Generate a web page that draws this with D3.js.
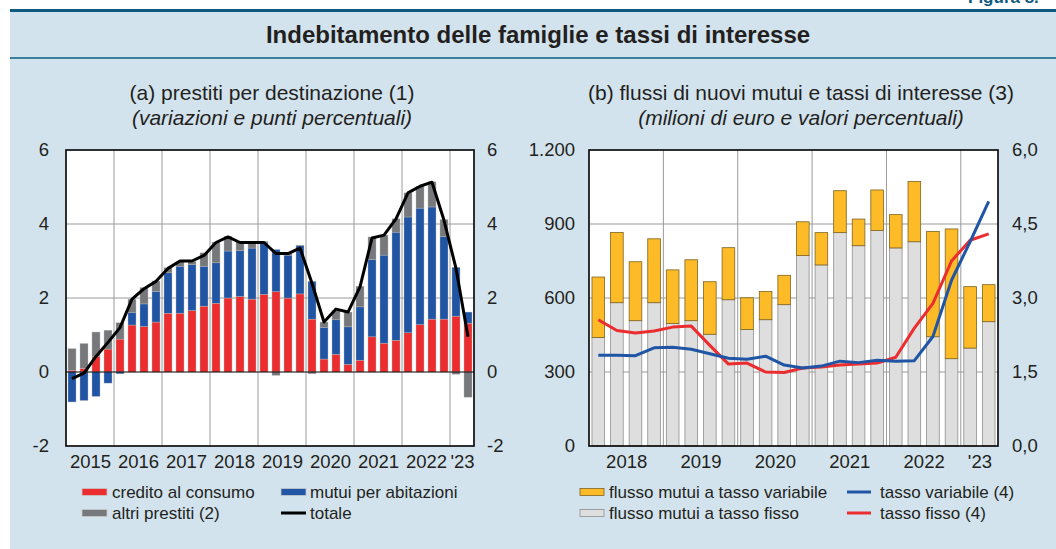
<!DOCTYPE html>
<html>
<head>
<meta charset="utf-8">
<script src="https://cdn.jsdelivr.net/npm/d3@7"></script>
<style>
  html, body { margin: 0; padding: 0; background: #fff; }
  svg { display: block; font-family: "Liberation Sans", Arial, Helvetica, sans-serif; }
  .tick text { fill: #231f20; font-size: 18.5px; }
  .legend text { fill: #231f20; font-size: 17px; }
</style>
</head>
<body>
<svg id="chart" width="1056" height="549"></svg>
<script>
// (a) prestiti per destinazione: quarterly, 2015 Q1 - 2023 Q2
const yearsA = [2015, 2016, 2017, 2018, 2019, 2020, 2021, 2022, 2023];
const yearLabelsA = ['2015', '2016', '2017', '2018', '2019', '2020', '2021', '2022', "'23"];
const creditoConsumo = [0.05, 0.10, 0.42, 0.62, 0.89, 1.27, 1.23, 1.35, 1.59, 1.59, 1.66, 1.78, 1.86, 2.00, 2.04, 1.97,
  2.10, 2.17, 2.00, 2.11, 1.43, 0.35, 0.48, 0.21, 0.32, 0.95, 0.78, 0.86, 1.06, 1.28, 1.43, 1.43, 1.51, 1.32];
const mutuiAbitazioni = [-0.81, -0.77, -0.66, -0.30, -0.05, 0.33, 0.61, 0.83, 1.09, 1.27, 1.24, 1.08, 1.09, 1.27, 1.24, 1.38,
  1.39, 1.14, 1.16, 1.31, 1.02, 0.86, 0.93, 1.01, 1.44, 2.09, 2.38, 2.92, 3.13, 3.15, 3.03, 2.23, 1.32, 0.30];
const altriPrestiti = [0.58, 0.67, 0.66, 0.51, 0.44, 0.37, 0.44, 0.28, 0.14, 0.13, 0.09, 0.36, 0.56, 0.40, 0.25, 0.18,
  0.04, -0.09, 0.05, 0.01, -0.05, 0.14, 0.25, 0.40, 0.56, 0.61, 0.54, 0.36, 0.65, 0.59, 0.68, 0.46, -0.06, -0.68];
const totale = [-0.18, -0.03, 0.42, 0.80, 1.20, 1.97, 2.25, 2.45, 2.80, 3.00, 3.00, 3.15, 3.50, 3.65, 3.50, 3.50,
  3.50, 3.20, 3.20, 3.35, 2.40, 1.35, 1.70, 1.62, 2.30, 3.62, 3.70, 4.14, 4.84, 5.02, 5.13, 4.10, 2.80, 0.95];
const ticksA = [-2, 0, 2, 4, 6];

// (b) flussi di nuovi mutui e tassi: quarterly, 2018 Q1 - 2023 Q2
const yearsB = [2018, 2019, 2020, 2021, 2022, 2023];
const yearLabelsB = ['2018', '2019', '2020', '2021', '2022', "'23"];
const flussoFisso = [440, 581, 508, 581, 497, 508, 453, 593, 472, 512, 573,
  772, 734, 865, 812, 874, 803, 828, 443, 354, 397, 504];
const flussoVariabile = [245, 285, 239, 259, 217, 247, 213, 211, 129, 114, 119,
  137, 131, 170, 108, 164, 135, 244, 427, 526, 249, 150];
const tassoVariabile = [1.84, 1.84, 1.83, 1.99, 2.00, 1.96, 1.87, 1.78, 1.76, 1.82, 1.64,
  1.58, 1.62, 1.72, 1.69, 1.74, 1.72, 1.73, 2.22, 3.36, 4.14, 4.96];
const tassoFisso = [2.56, 2.34, 2.29, 2.33, 2.41, 2.43, 2.04, 1.66, 1.68, 1.50, 1.49,
  1.58, 1.60, 1.64, 1.66, 1.68, 1.80, 2.39, 2.89, 3.75, 4.17, 4.30];
const ticksBLeft = [0, 300, 600, 900, 1200];
const ticksBRight = [0, 1.5, 3, 4.5, 6];

const colors = {
  credito: '#ec2d2f',
  mutui: '#1f55a4',
  altri: '#76787b',
  totale: '#000',
  variabile: '#fcbb27',
  fisso: '#dddedd',
};

// Italian number format, plain hyphen for negatives as in the source
const itLocale = d3.formatLocale({ decimal: ',', thousands: '.', grouping: [3], currency: ['€', ''], minus: '-' });

const svg = d3.select('#chart');
const W = 1056;
const H = 549;
const plotTop = 150;
const plotBottom = 446;

// frame
svg.append('rect')
  .attr('x', 10).attr('y', 10)
  .attr('width', W - 10).attr('height', H - 10)
  .attr('fill', '#d2e3ed')
;
svg.append('rect')
  .attr('x', 10).attr('y', 9)
  .attr('width', W - 10).attr('height', 3)
  .attr('fill', '#0d5a80')
;
svg.append('rect')
  .attr('x', 10).attr('y', 57)
  .attr('width', W - 10).attr('height', 2)
  .attr('fill', '#3e7f9f')
;
svg.append('text')
  .attr('x', 968).attr('y', 3)
  .attr('font-weight', 'bold')
  .attr('font-size', 17)
  .attr('fill', '#0d5a80')
  .text('Figura 8.')
;
svg.append('text')
  .attr('x', 538).attr('y', 43)
  .attr('text-anchor', 'middle')
  .attr('font-weight', 'bold')
  .attr('font-size', 24)
  .attr('fill', '#231f20')
  .text('Indebitamento delle famiglie e tassi di interesse')
;

function subtitles(cx, line1, line2) {
  svg.append('text')
    .attr('x', cx).attr('y', 100)
    .attr('text-anchor', 'middle')
    .attr('font-size', 21)
    .attr('fill', '#231f20')
    .text(line1)
  ;
  svg.append('text')
    .attr('x', cx).attr('y', 125)
    .attr('text-anchor', 'middle')
    .attr('font-size', 21)
    .attr('font-style', 'italic')
    .attr('fill', '#231f20')
    .text(line2)
  ;
}
subtitles(272, '(a) prestiti per destinazione (1)', '(variazioni e punti percentuali)');
subtitles(801, '(b) flussi di nuovi mutui e tassi di interesse (3)', '(milioni di euro e valori percentuali)');

function quarterKeys(firstYear, n) {
  return d3.range(n).map(i => `${firstYear + Math.floor(i / 4)}Q${(i % 4) + 1}`);
}

function drawFrame(g, x0, x1, yScale, hTicks, years, xYear) {
  g.append('rect')
    .attr('x', x0).attr('y', plotTop)
    .attr('width', x1 - x0).attr('height', plotBottom - plotTop)
    .attr('fill', '#fff')
  ;
  g.append('g')
    .selectAll('line')
    .data(hTicks)
    .join('line')
    .attr('x1', x0).attr('x2', x1)
    .attr('y1', d => yScale(d)).attr('y2', d => yScale(d))
    .attr('stroke', '#9a9a9a')
    .attr('stroke-width', 1)
  ;
  g.append('g')
    .selectAll('line')
    .data(years.slice(1))
    .join('line')
    .attr('x1', d => xYear(d)).attr('x2', d => xYear(d))
    .attr('y1', plotTop).attr('y2', plotBottom)
    .attr('stroke', '#9a9a9a')
    .attr('stroke-width', 1)
  ;
}

function drawBorder(g, x0, x1) {
  g.append('rect')
    .attr('x', x0).attr('y', plotTop)
    .attr('width', x1 - x0).attr('height', plotBottom - plotTop)
    .attr('fill', 'none')
    .attr('stroke', '#000')
    .attr('stroke-width', 1.6)
  ;
}

function drawYearAxis(g, years, labels, xYear, lastYearEnd) {
  const mids = years.map((y, i) => (i < years.length - 1 ? y + 0.5 : (y + lastYearEnd) / 2));
  const axis = d3.axisBottom(xYear)
    .tickValues(mids)
    .tickFormat((d, i) => labels[i])
    .tickSize(0)
    .tickPadding(9)
  ;
  g.append('g')
    .attr('transform', `translate(0,${plotBottom})`)
    .call(axis)
    .call(s => s.select('.domain').remove())
  ;
}

function drawYAxis(g, scale, ticks, fmt, x, left, pad) {
  const axis = (left ? d3.axisLeft(scale) : d3.axisRight(scale))
    .tickValues(ticks)
    .tickFormat(fmt)
    .tickSize(0)
    .tickPadding(pad)
  ;
  g.append('g')
    .attr('transform', `translate(${x},0)`)
    .call(axis)
    .call(s => s.select('.domain').remove())
  ;
}

// ---------- panel (a) ----------
function drawPanelA() {
  const x0 = 66;
  const x1 = 474;
  const g = svg.append('g').attr('class', 'panel-a');
  const quarters = quarterKeys(2015, creditoConsumo.length);
  const x = d3.scaleBand().domain(quarters).range([x0, x1]).paddingInner(1 / 3).paddingOuter(1 / 6);
  const xYear = d3.scaleLinear().domain([2015, 2023.5]).range([x0, x1]);
  const y = d3.scaleLinear().domain([-2, 6]).range([plotBottom, plotTop]);

  drawFrame(g, x0, x1, y, [2, 4], yearsA, xYear);

  const rows = quarters.map((q, i) => ({
    q,
    credito: creditoConsumo[i],
    mutui: mutuiAbitazioni[i],
    altri: altriPrestiti[i],
  }));
  const keys = ['credito', 'mutui', 'altri'];
  const series = d3.stack().keys(keys).offset(d3.stackOffsetDiverging)(rows);

  g.append('g')
    .selectAll('g')
    .data(series)
    .join('g')
    .attr('fill', d => colors[d.key])
    .selectAll('rect')
    .data(d => d)
    .join('rect')
    .attr('x', d => x(d.data.q))
    .attr('width', x.bandwidth())
    .attr('y', d => y(Math.max(d[0], d[1])))
    .attr('height', d => Math.abs(y(d[0]) - y(d[1])))
    .attr('stroke', '#b9b9b9')
    .attr('stroke-width', 0.4)
  ;

  g.append('line')
    .attr('x1', x0).attr('x2', x1)
    .attr('y1', y(0)).attr('y2', y(0))
    .attr('stroke', '#000')
    .attr('stroke-width', 1.2)
  ;

  const line = d3.line()
    .x((d, i) => x(quarters[i]) + x.bandwidth() / 2)
    .y(d => y(d))
  ;
  g.append('path')
    .datum(totale)
    .attr('d', line)
    .attr('fill', 'none')
    .attr('stroke', colors.totale)
    .attr('stroke-width', 3)
    .attr('stroke-linejoin', 'round')
  ;

  drawBorder(g, x0, x1);
  drawYearAxis(g, yearsA, yearLabelsA, xYear, 2023.5);
  drawYAxis(g, y, ticksA, itLocale.format('d'), x0, true, 17);
  drawYAxis(g, y, ticksA, itLocale.format('d'), x1, false, 13);
}

// ---------- panel (b) ----------
function drawPanelB() {
  const x0 = 589;
  const x1 = 998;
  const g = svg.append('g').attr('class', 'panel-b');
  const quarters = quarterKeys(2018, flussoFisso.length);
  const x = d3.scaleBand().domain(quarters).range([x0, x1]).paddingInner(0.32).paddingOuter(0.16);
  const xYear = d3.scaleLinear().domain([2018, 2023.5]).range([x0, x1]);
  const y = d3.scaleLinear().domain([0, 1200]).range([plotBottom, plotTop]);
  const yRate = d3.scaleLinear().domain([0, 6]).range([plotBottom, plotTop]);

  drawFrame(g, x0, x1, y, [300, 600, 900], yearsB, xYear);

  const rows = quarters.map((q, i) => ({ q, fisso: flussoFisso[i], variabile: flussoVariabile[i] }));
  const series = d3.stack().keys(['fisso', 'variabile'])(rows);
  const strokes = { fisso: '#8f8f8f', variabile: '#7d6420' };

  g.append('g')
    .selectAll('g')
    .data(series)
    .join('g')
    .attr('fill', d => colors[d.key])
    .attr('stroke', d => strokes[d.key])
    .attr('stroke-width', 0.8)
    .selectAll('rect')
    .data(d => d)
    .join('rect')
    .attr('x', d => x(d.data.q))
    .attr('width', x.bandwidth())
    .attr('y', d => y(d[1]))
    .attr('height', d => y(d[0]) - y(d[1]))
  ;

  const line = d3.line()
    .x((d, i) => x(quarters[i]) + x.bandwidth() / 2)
    .y(d => yRate(d))
  ;
  [[tassoFisso, colors.credito], [tassoVariabile, colors.mutui]].forEach(([vals, c]) => {
    g.append('path')
      .datum(vals)
      .attr('d', line)
      .attr('fill', 'none')
      .attr('stroke', c)
      .attr('stroke-width', 3)
      .attr('stroke-linejoin', 'round')
    ;
  });

  drawBorder(g, x0, x1);
  drawYearAxis(g, yearsB, yearLabelsB, xYear, 2023.5);
  drawYAxis(g, y, ticksBLeft, itLocale.format(',d'), x0, true, 14);
  drawYAxis(g, yRate, ticksBRight, itLocale.format(',.1f'), x1, false, 14);
}

// ---------- legends ----------
const legendA = [
  { label: 'credito al consumo', type: 'rect', color: colors.credito, stroke: '#c9c9c9', col: 0, row: 0 },
  { label: 'mutui per abitazioni', type: 'rect', color: colors.mutui, stroke: '#c9c9c9', col: 1, row: 0 },
  { label: 'altri prestiti (2)', type: 'rect', color: colors.altri, stroke: '#c9c9c9', col: 0, row: 1 },
  { label: 'totale', type: 'line', color: colors.totale, col: 1, row: 1 },
];
const legendB = [
  { label: 'flusso mutui a tasso variabile', type: 'rect', color: colors.variabile, stroke: '#7d6420', col: 0, row: 0 },
  { label: 'tasso variabile (4)', type: 'line', color: colors.mutui, col: 1, row: 0 },
  { label: 'flusso mutui a tasso fisso', type: 'rect', color: colors.fisso, stroke: '#8f8f8f', col: 0, row: 1 },
  { label: 'tasso fisso (4)', type: 'line', color: colors.credito, col: 1, row: 1 },
];

function drawLegend(items, colX, swatchW, textGap) {
  const g = svg.append('g').attr('class', 'legend');
  const item = g.selectAll('g')
    .data(items)
    .join('g')
    .attr('transform', d => `translate(${colX[d.col]},${492 + d.row * 21})`)
  ;
  item.filter(d => d.type === 'rect')
    .append('rect')
    .attr('x', 0).attr('y', -3.5)
    .attr('width', swatchW).attr('height', 7)
    .attr('fill', d => d.color)
    .attr('stroke', d => d.stroke)
    .attr('stroke-width', 0.8)
  ;
  item.filter(d => d.type === 'line')
    .append('line')
    .attr('x1', 0).attr('x2', swatchW)
    .attr('stroke', d => d.color)
    .attr('stroke-width', 3)
  ;
  item.append('text')
    .attr('x', d => swatchW + textGap[d.col])
    .attr('y', 6)
    .text(d => d.label)
  ;
}

drawPanelA();
drawPanelB();
drawLegend(legendA, [82, 281], 25, [5, 4]);
drawLegend(legendB, [580, 847], 24, [5, 9]);
</script>
</body>
</html>
